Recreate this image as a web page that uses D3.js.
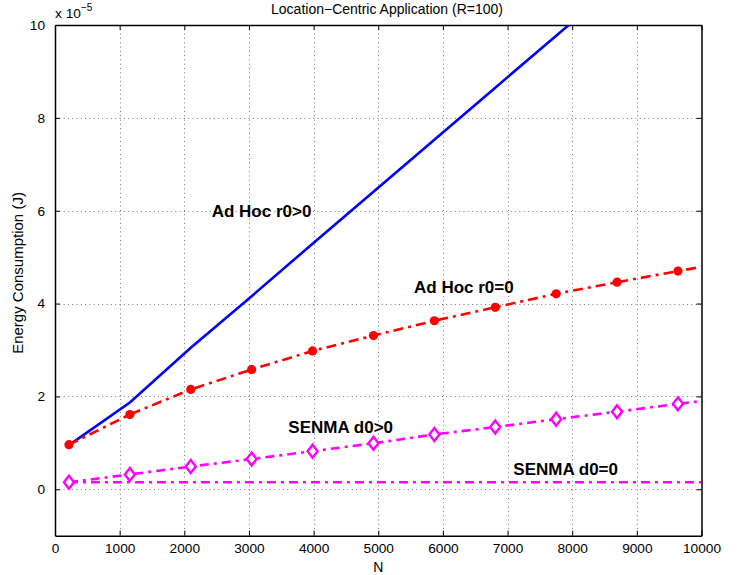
<!DOCTYPE html>
<html>
<head>
<meta charset="utf-8">
<script src="https://cdn.jsdelivr.net/npm/d3@7"></script>
<style>
  body { margin: 0; background: #fff; }
  svg { display: block; font-family: "Liberation Sans", Arial, sans-serif; }
</style>
</head>
<body>
<svg width="741" height="575"></svg>
<script>
// N values (last one is the line end at the axis edge, no marker there)
var nValues = [216, 1158, 2100, 3042, 3984, 4926, 5868, 6810, 7752, 8694, 9636, 10000];

// energy consumption, units of 1e-5 J
var adHocR0Pos  = [0.95, 1.87, 3.05, 4.16, 5.29, 6.41, 7.53, 8.65, 9.77, 10.88, 12.0, 12.4];
var adHocR0Zero = [0.96, 1.61, 2.15, 2.58, 2.98, 3.31, 3.63, 3.92, 4.21, 4.46, 4.70, 4.79];
var senmaPos    = [0.15, 0.32, 0.49, 0.65, 0.82, 0.99, 1.18, 1.34, 1.51, 1.67, 1.84, 1.90];
var senmaZero   = [0.15, 0.15, 0.15, 0.15, 0.15, 0.15, 0.15, 0.15, 0.15, 0.15, 0.15, 0.15];

var xTicks = [0, 1000, 2000, 3000, 4000, 5000, 6000, 7000, 8000, 9000, 10000];
var yTicks = [0, 2, 4, 6, 8, 10];

// in-plot labels (data coords of text baseline start)
var labelText = ["Ad Hoc r0>0", "Ad Hoc r0=0", "SENMA d0>0", "SENMA d0=0"];
var labelN    = [2424, 5553, 3609, 7089];
var labelV    = [5.87, 4.22, 1.21, 0.31];

var margin = { top: 25, right: 39.5, bottom: 39.3, left: 55 };
var svgWidth = 741, svgHeight = 575;

var svg = d3.select("svg");

var x = d3.scaleLinear().domain([0, 10000]).range([margin.left, svgWidth - margin.right]);
var y = d3.scaleLinear().domain([-1, 10]).range([svgHeight - margin.bottom, margin.top]);

var x0 = x.range()[0], x1 = x.range()[1], yb = y.range()[0], yt = y.range()[1];

svg.append("defs").append("clipPath").attr("id", "plotclip")
    .append("rect")
    .attr("x", x0).attr("y", yt)
    .attr("width", x1 - x0).attr("height", yb - yt);

// grid
var grid = svg.append("g").attr("stroke", "#777").attr("stroke-width", 1)
    .attr("stroke-dasharray", "1,3.3");
grid.selectAll(".gx").data(xTicks.slice(1, -1)).enter().append("line")
    .attr("x1", d => Math.round(x(d)) + 0.5).attr("x2", d => Math.round(x(d)) + 0.5)
    .attr("y1", yt).attr("y2", yb);
grid.selectAll(".gy").data(yTicks.slice(0, -1)).enter().append("line")
    .attr("y1", d => Math.round(y(d)) + 0.5).attr("y2", d => Math.round(y(d)) + 0.5)
    .attr("x1", x0).attr("x2", x1);

// axes, MATLAB style: ticks inward on all four sides
var tickLen = 5;
var fmt = d3.format("d");
var bottomAxis = d3.axisBottom(x).tickValues(xTicks).tickFormat(fmt).tickSizeInner(-tickLen).tickSizeOuter(0).tickPadding(8);
var topAxis = d3.axisTop(x).tickValues(xTicks).tickSizeInner(-tickLen).tickSizeOuter(0).tickFormat("");
var leftAxis = d3.axisLeft(y).tickValues(yTicks).tickFormat(fmt).tickSizeInner(-tickLen).tickSizeOuter(0).tickPadding(10);
var rightAxis = d3.axisRight(y).tickValues(yTicks).tickSizeInner(-tickLen).tickSizeOuter(0).tickFormat("");

svg.append("g").attr("transform", "translate(0," + yb + ")").call(bottomAxis);
svg.append("g").attr("transform", "translate(0," + yt + ")").call(topAxis);
svg.append("g").attr("transform", "translate(" + x0 + ",0)").call(leftAxis);
svg.append("g").attr("transform", "translate(" + x1 + ",0)").call(rightAxis);

svg.selectAll(".domain").attr("stroke", "#000").attr("stroke-width", 1.5);
svg.selectAll(".tick line").attr("stroke", "#000").attr("stroke-width", 1);
svg.selectAll(".tick text")
    .attr("font-size", 13.7)
    .attr("font-family", "Liberation Sans, Arial, sans-serif")
    .attr("fill", "#000");

// series
var line = d3.line().x(d => x(d.n)).y(d => y(d.v));
function series(vals) { return nValues.map((n, i) => ({ n: n, v: vals[i] })); }

var plot = svg.append("g").attr("clip-path", "url(#plotclip)");

plot.append("path").datum(series(adHocR0Pos))
    .attr("fill", "none").attr("stroke", "#0000ff").attr("stroke-width", 2.6)
    .attr("d", line);

plot.append("path").datum(series(senmaZero))
    .attr("fill", "none").attr("stroke", "#ff00ff").attr("stroke-width", 2.6)
    .attr("stroke-dasharray", "9,5,3,5")
    .attr("d", line);

plot.append("path").datum(series(senmaPos))
    .attr("fill", "none").attr("stroke", "#ff00ff").attr("stroke-width", 2.6)
    .attr("stroke-dasharray", "9,5,3,5")
    .attr("d", line);

plot.append("path").datum(series(adHocR0Zero))
    .attr("fill", "none").attr("stroke", "#ff0000").attr("stroke-width", 2.6)
    .attr("stroke-dasharray", "10,5,3,5")
    .attr("d", line);

// markers (every point except the line end)
plot.selectAll(".dot").data(series(adHocR0Zero).slice(0, -1)).enter().append("circle")
    .attr("cx", d => x(d.n)).attr("cy", d => y(d.v)).attr("r", 4.6)
    .attr("fill", "#ff0000");

var diamond = "M0,-6.5L5,0L0,6.5L-5,0Z";
plot.selectAll(".dia").data(series(senmaPos).slice(0, -1)).enter().append("path")
    .attr("transform", d => "translate(" + x(d.n) + "," + y(d.v) + ")")
    .attr("d", diamond)
    .attr("fill", "#fff").attr("stroke", "#ff00ff").attr("stroke-width", 2.4);

// in-plot labels
svg.selectAll(".lbl").data(labelText).enter().append("text")
    .attr("x", (d, i) => x(labelN[i])).attr("y", (d, i) => y(labelV[i]))
    .attr("font-size", 17).attr("font-weight", "bold")
    .attr("fill", "#000")
    .text(d => d);

// title
svg.append("text")
    .attr("x", 387).attr("y", 14)
    .attr("text-anchor", "middle")
    .attr("font-size", 14)
    .text("Location\u2212Centric Application (R=100)");

// exponent
var expo = svg.append("text").attr("x", x0).attr("y", 18).attr("font-size", 13.7);
expo.append("tspan").text("x 10");
expo.append("tspan").attr("dy", -7).attr("font-size", 10).text("\u22125");

// axis labels
svg.append("text")
    .attr("x", (x0 + x1) / 2).attr("y", 572)
    .attr("text-anchor", "middle")
    .attr("font-size", 14)
    .text("N");

svg.append("text")
    .attr("transform", "translate(23," + 273 + ") rotate(-90)")
    .attr("text-anchor", "middle")
    .attr("font-size", 15)
    .text("Energy Consumption (J)");
</script>
</body>
</html>
